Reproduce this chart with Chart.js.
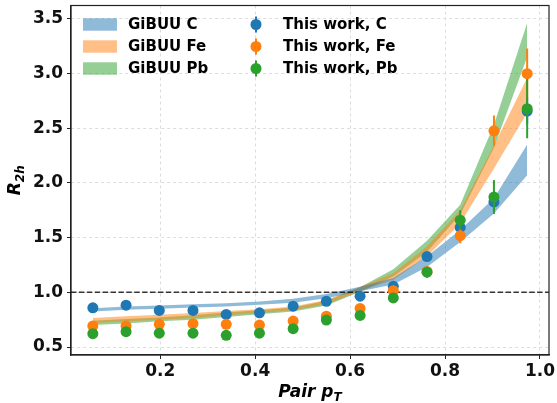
<!DOCTYPE html>
<html>
<head>
<meta charset="utf-8">
<script src="https://cdn.jsdelivr.net/npm/chart.js@4.4.0/dist/chart.umd.min.js"></script>
<style>
    html, body { margin: 0; padding: 0; background: #fff; }
    #wrap { width: 557px; height: 403px; }
</style>
</head>
<body>
<div id="wrap"><canvas id="r2h" width="557" height="403"></canvas></div>
<script>
// pair pT bin centres
const pairPt = [0.058, 0.128, 0.198, 0.269, 0.339, 0.409, 0.48, 0.55, 0.621, 0.691, 0.762, 0.832, 0.903, 0.973];

// GiBUU bands (lower / upper edge)
const gibuuCLow   = [0.825, 0.84, 0.85, 0.86, 0.87, 0.885, 0.905, 0.945, 1.01, 1.07, 1.23, 1.46, 1.72, 2.07];
const gibuuCHigh  = [0.855, 0.87, 0.88, 0.89, 0.90, 0.915, 0.94, 0.985, 1.05, 1.13, 1.33, 1.57, 1.86, 2.35];
const gibuuFeLow  = [0.72, 0.735, 0.75, 0.765, 0.79, 0.81, 0.835, 0.89, 1.01, 1.115, 1.33, 1.63, 2.13, 2.64];
const gibuuFeHigh = [0.765, 0.78, 0.795, 0.81, 0.83, 0.845, 0.87, 0.93, 1.05, 1.175, 1.42, 1.75, 2.34, 2.96];
const gibuuPbLow  = [0.70, 0.715, 0.735, 0.75, 0.775, 0.80, 0.825, 0.88, 1.005, 1.145, 1.37, 1.71, 2.32, 3.15];
const gibuuPbHigh = [0.74, 0.755, 0.77, 0.79, 0.815, 0.835, 0.86, 0.92, 1.045, 1.21, 1.47, 1.80, 2.53, 3.46];

// this work: R_2h and errors
const ratioC  = [0.858, 0.882, 0.834, 0.834, 0.798, 0.812, 0.873, 0.918, 0.964, 1.054, 1.326, 1.592, 1.825, 2.656];
const ratioFe = [0.692, 0.692, 0.707, 0.713, 0.707, 0.70, 0.737, 0.782, 0.852, 1.015, 1.19, 1.517, 2.475, 2.997];
const ratioPb = [0.622, 0.64, 0.626, 0.626, 0.607, 0.626, 0.667, 0.746, 0.789, 0.948, 1.184, 1.659, 1.87, 2.677];
const errC  = [0.035, 0.02, 0.02, 0.02, 0.02, 0.02, 0.02, 0.02, 0.02, 0.025, 0.03, 0.04, 0.08, 0.12];
const errFe = [0.03, 0.02, 0.02, 0.02, 0.02, 0.02, 0.02, 0.02, 0.025, 0.03, 0.04, 0.07, 0.14, 0.23];
const errPb = [0.035, 0.02, 0.02, 0.02, 0.02, 0.02, 0.02, 0.025, 0.025, 0.03, 0.05, 0.09, 0.155, 0.27];

const xTicks = [0.2, 0.4, 0.6, 0.8, 1.0];
const yTicks = [0.5, 1.0, 1.5, 2.0, 2.5, 3.0, 3.5];
const xRange = [0.012, 1.019];
const yRange = [0.427, 3.62];
const refLevel = 1.0;

const colors = { C: '#1f77b4', Fe: '#ff7f0e', Pb: '#2ca02c' };
const bandColors = { C: 'rgba(31,119,180,0.5)', Fe: 'rgba(255,127,14,0.5)', Pb: 'rgba(44,160,44,0.5)' };

const FONT = "'DejaVu Sans', sans-serif";

const toPoints = (ys) => pairPt.map((x, i) => ({ x: x, y: ys[i] }));

function bandPair(low, high, color) {
    const base = { type: 'line', pointRadius: 0, borderWidth: 0, tension: 0, order: 10 };
    return [
        Object.assign({}, base, { data: toPoints(low), borderColor: 'transparent', fill: false }),
        Object.assign({}, base, { data: toPoints(high), borderColor: 'transparent', backgroundColor: color, fill: '-1' })
    ];
}

function pointSet(ys, errs, color, order) {
    return {
        type: 'scatter',
        data: toPoints(ys),
        errors: errs,
        backgroundColor: color,
        borderColor: color,
        pointRadius: 5.5,
        pointBorderWidth: 0,
        order: order
    };
}

// error bars drawn right before each point set
const errorBarPlugin = {
    id: 'errorBars',
    beforeDatasetDraw(chart, args) {
        const ds = chart.data.datasets[args.index];
        if (!ds.errors) return;
        const { ctx, scales: { x, y } } = chart;
        ctx.save();
        ctx.strokeStyle = ds.borderColor;
        ctx.lineWidth = 2;
        ds.data.forEach((p, i) => {
            const px = x.getPixelForValue(p.x);
            ctx.beginPath();
            ctx.moveTo(px, y.getPixelForValue(p.y - ds.errors[i]));
            ctx.lineTo(px, y.getPixelForValue(p.y + ds.errors[i]));
            ctx.stroke();
        });
        ctx.restore();
    }
};

// frame, axis titles and legend
const decorPlugin = {
    id: 'decor',
    afterDraw(chart) {
        const { ctx, chartArea: a } = chart;
        ctx.save();
        ctx.strokeStyle = '#222';
        ctx.lineWidth = 1.2;
        ctx.strokeRect(a.left, a.top, a.right - a.left, a.bottom - a.top);

        ctx.fillStyle = '#000';
        ctx.textBaseline = 'alphabetic';

        // x title: Pair p_T
        const big = `italic bold 17px ${FONT}`, small = `italic bold 12px ${FONT}`;
        ctx.font = big;
        const w1 = ctx.measureText('Pair p').width;
        ctx.font = small;
        const w2 = ctx.measureText('T').width;
        let sx = (a.left + a.right) / 2 - (w1 + w2) / 2;
        ctx.font = big;
        ctx.textAlign = 'left';
        ctx.fillText('Pair p', sx, 397);
        ctx.font = small;
        ctx.fillText('T', sx + w1, 401);

        // y title: R_2h
        ctx.save();
        ctx.translate(20, (a.top + a.bottom) / 2);
        ctx.rotate(-Math.PI / 2);
        ctx.font = big;
        const r1 = ctx.measureText('R').width;
        ctx.font = small;
        const r2 = ctx.measureText('2h').width;
        const ry = -(r1 + r2) / 2;
        ctx.font = big;
        ctx.fillText('R', ry, 0);
        ctx.font = small;
        ctx.fillText('2h', ry + r1, 4);
        ctx.restore();

        // legend
        const rows = [24.5, 46.5, 68.5];
        const keys = ['C', 'Fe', 'Pb'];
        ctx.font = `bold 15px ${FONT}`;
        ctx.textBaseline = 'middle';
        keys.forEach((k, i) => {
            const cy = rows[i];
            ctx.fillStyle = bandColors[k];
            ctx.fillRect(83, cy - 6.2, 34, 12.4);
            ctx.fillStyle = '#000';
            ctx.fillText('GiBUU ' + k, 128, cy + 1);

            ctx.strokeStyle = colors[k];
            ctx.lineWidth = 2;
            ctx.beginPath();
            ctx.moveTo(256, cy - 8);
            ctx.lineTo(256, cy + 8);
            ctx.stroke();
            ctx.fillStyle = colors[k];
            ctx.beginPath();
            ctx.arc(256, cy, 5.5, 0, Math.PI * 2);
            ctx.fill();
            ctx.fillStyle = '#000';
            ctx.fillText('This work, ' + k, 283, cy + 1);
        });
        ctx.restore();
    }
};

const datasets = [
    ...bandPair(gibuuCLow, gibuuCHigh, bandColors.C),
    ...bandPair(gibuuFeLow, gibuuFeHigh, bandColors.Fe),
    ...bandPair(gibuuPbLow, gibuuPbHigh, bandColors.Pb),
    {
        type: 'line',
        data: [{ x: xRange[0], y: refLevel }, { x: xRange[1], y: refLevel }],
        borderColor: 'rgba(0,0,0,0.78)',
        borderWidth: 1.6,
        borderDash: [5.5, 2.4],
        pointRadius: 0,
        fill: false,
        order: 6
    },
    pointSet(ratioC, errC, colors.C, 3),
    pointSet(ratioFe, errFe, colors.Fe, 2),
    pointSet(ratioPb, errPb, colors.Pb, 1)
];

const gridOpts = {
    color: '#dcdcdc',
    lineWidth: 1,
    drawTicks: true,
    tickLength: 4,
    tickColor: '#222',
    tickWidth: 1
};

new Chart(document.getElementById('r2h'), {
    type: 'scatter',
    data: { datasets: datasets },
    options: {
        responsive: false,
        animation: false,
        devicePixelRatio: 1,
        layout: { padding: { top: 4, right: 8, left: 0, bottom: 0 } },
        plugins: { legend: { display: false }, tooltip: { enabled: false } },
        scales: {
            x: {
                type: 'linear',
                min: xRange[0],
                max: xRange[1],
                afterBuildTicks: (s) => { s.ticks = xTicks.map(v => ({ value: v })); },
                afterFit: (s) => { s.height = 48; s.paddingLeft = 0; s.paddingRight = 0; },
                grid: gridOpts,
                border: { display: true, color: '#222', width: 1.2, dash: [3, 3] },
                ticks: {
                    color: '#111',
                    font: { family: FONT, size: 17, weight: 'bold' },
                    padding: 2,
                    maxRotation: 0,
                    callback: (v) => v.toFixed(1)
                }
            },
            y: {
                type: 'linear',
                min: yRange[0],
                max: yRange[1],
                afterBuildTicks: (s) => { s.ticks = yTicks.map(v => ({ value: v })); },
                afterFit: (s) => { s.width = 71; s.paddingTop = 0; s.paddingBottom = 0; },
                grid: gridOpts,
                border: { display: true, color: '#222', width: 1.2, dash: [3, 3] },
                ticks: {
                    color: '#111',
                    font: { family: FONT, size: 17, weight: 'bold' },
                    padding: 4,
                    callback: (v) => v.toFixed(1)
                }
            }
        }
    },
    plugins: [errorBarPlugin, decorPlugin]
});
</script>
</body>
</html>
